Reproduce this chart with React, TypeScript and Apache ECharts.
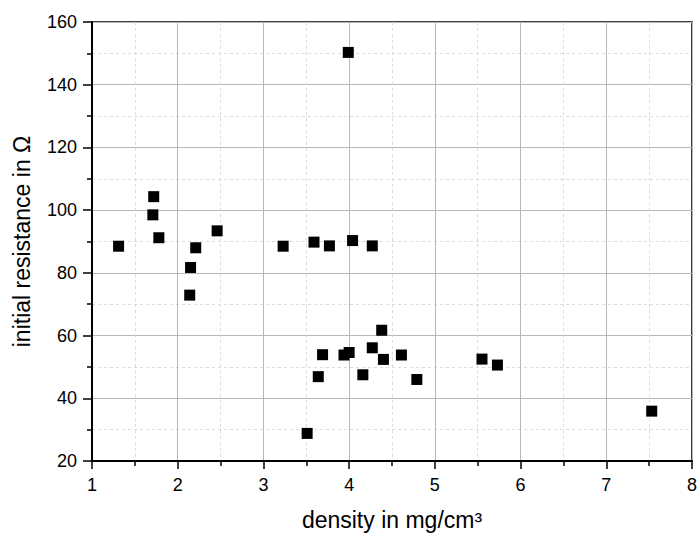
import React, { useEffect, useRef } from "react";
import * as echarts from "echarts";

const density: number[] = [
  1.31, 1.72, 1.71, 1.78, 2.21, 2.15, 2.14, 2.46, 3.23, 3.59, 3.77, 4.04, 4.27, 3.99,
  4.38, 3.69, 3.94, 4.0, 4.27, 4.4, 4.61, 3.64, 4.16, 4.79, 5.55, 5.73, 7.53, 3.51,
];
const resistance: number[] = [
  88.5, 104.3, 98.5, 91.2, 88.0, 81.7, 72.9, 93.4, 88.5, 89.8, 88.6, 90.3, 88.6, 150.3,
  61.7, 53.9, 53.8, 54.6, 56.1, 52.4, 53.8, 46.9, 47.5, 46.0, 52.5, 50.6, 35.9, 28.8,
];
const xTitle = "density in mg/cm³";
const yTitle = "initial resistance in Ω";

export default function App() {
  const ref = useRef<HTMLDivElement>(null);
  useEffect(() => {
    if (!ref.current) return;
    const chart = echarts.init(ref.current, null, { renderer: "svg" });
    const font = "Liberation Sans, Arial, sans-serif";
    const tickColor = "#000";
    chart.setOption({
      animation: false,
      backgroundColor: "#fff",
      grid: {
        left: 92,
        right: 4,
        top: 22,
        bottom: 73,
        show: true,
        borderColor: "#000",
        borderWidth: 1.5,
      },
      xAxis: {
        type: "value",
        min: 1,
        max: 8,
        interval: 1,
        name: xTitle,
        nameLocation: "middle",
        nameGap: 47,
        nameTextStyle: { fontFamily: font, fontSize: 23, color: "#000" },
        axisLine: { show: true, onZero: false, lineStyle: { color: "#000", width: 2 } },
        axisTick: { show: true, inside: false, length: 8, lineStyle: { color: tickColor, width: 1.5 } },
        minorTick: { show: true, splitNumber: 2, length: 5, lineStyle: { color: tickColor, width: 1.5 } },
        axisLabel: { fontFamily: font, fontSize: 18, color: "#000", margin: 15 },
        splitLine: { show: true, lineStyle: { color: "#b8b8b8", width: 1 } },
        minorSplitLine: { show: true, lineStyle: { color: "#dcdcdc", width: 1, type: [3, 3] } },
      },
      yAxis: {
        type: "value",
        min: 20,
        max: 160,
        interval: 20,
        name: yTitle,
        nameLocation: "middle",
        nameGap: 59,
        nameRotate: 90,
        nameTextStyle: { fontFamily: font, fontSize: 23, color: "#000" },
        axisLine: { show: true, onZero: false, lineStyle: { color: "#000", width: 2 } },
        axisTick: { show: true, inside: false, length: 9, lineStyle: { color: tickColor, width: 1.5 } },
        minorTick: { show: true, splitNumber: 2, length: 5, lineStyle: { color: tickColor, width: 1.5 } },
        axisLabel: { fontFamily: font, fontSize: 18, color: "#000", margin: 15 },
        splitLine: { show: true, lineStyle: { color: "#b8b8b8", width: 1 } },
        minorSplitLine: { show: true, lineStyle: { color: "#dcdcdc", width: 1, type: [3, 3] } },
      },
      series: [
        {
          type: "scatter",
          symbol: "rect",
          symbolSize: 11,
          itemStyle: { color: "#000", opacity: 1 },
          data: density.map((d, i) => [d, resistance[i]]),
        },
      ],
    });
    return () => chart.dispose();
  }, []);
  return <div ref={ref} style={{ width: 700, height: 536, position: "absolute", left: 0, top: 0 }} />;
}
